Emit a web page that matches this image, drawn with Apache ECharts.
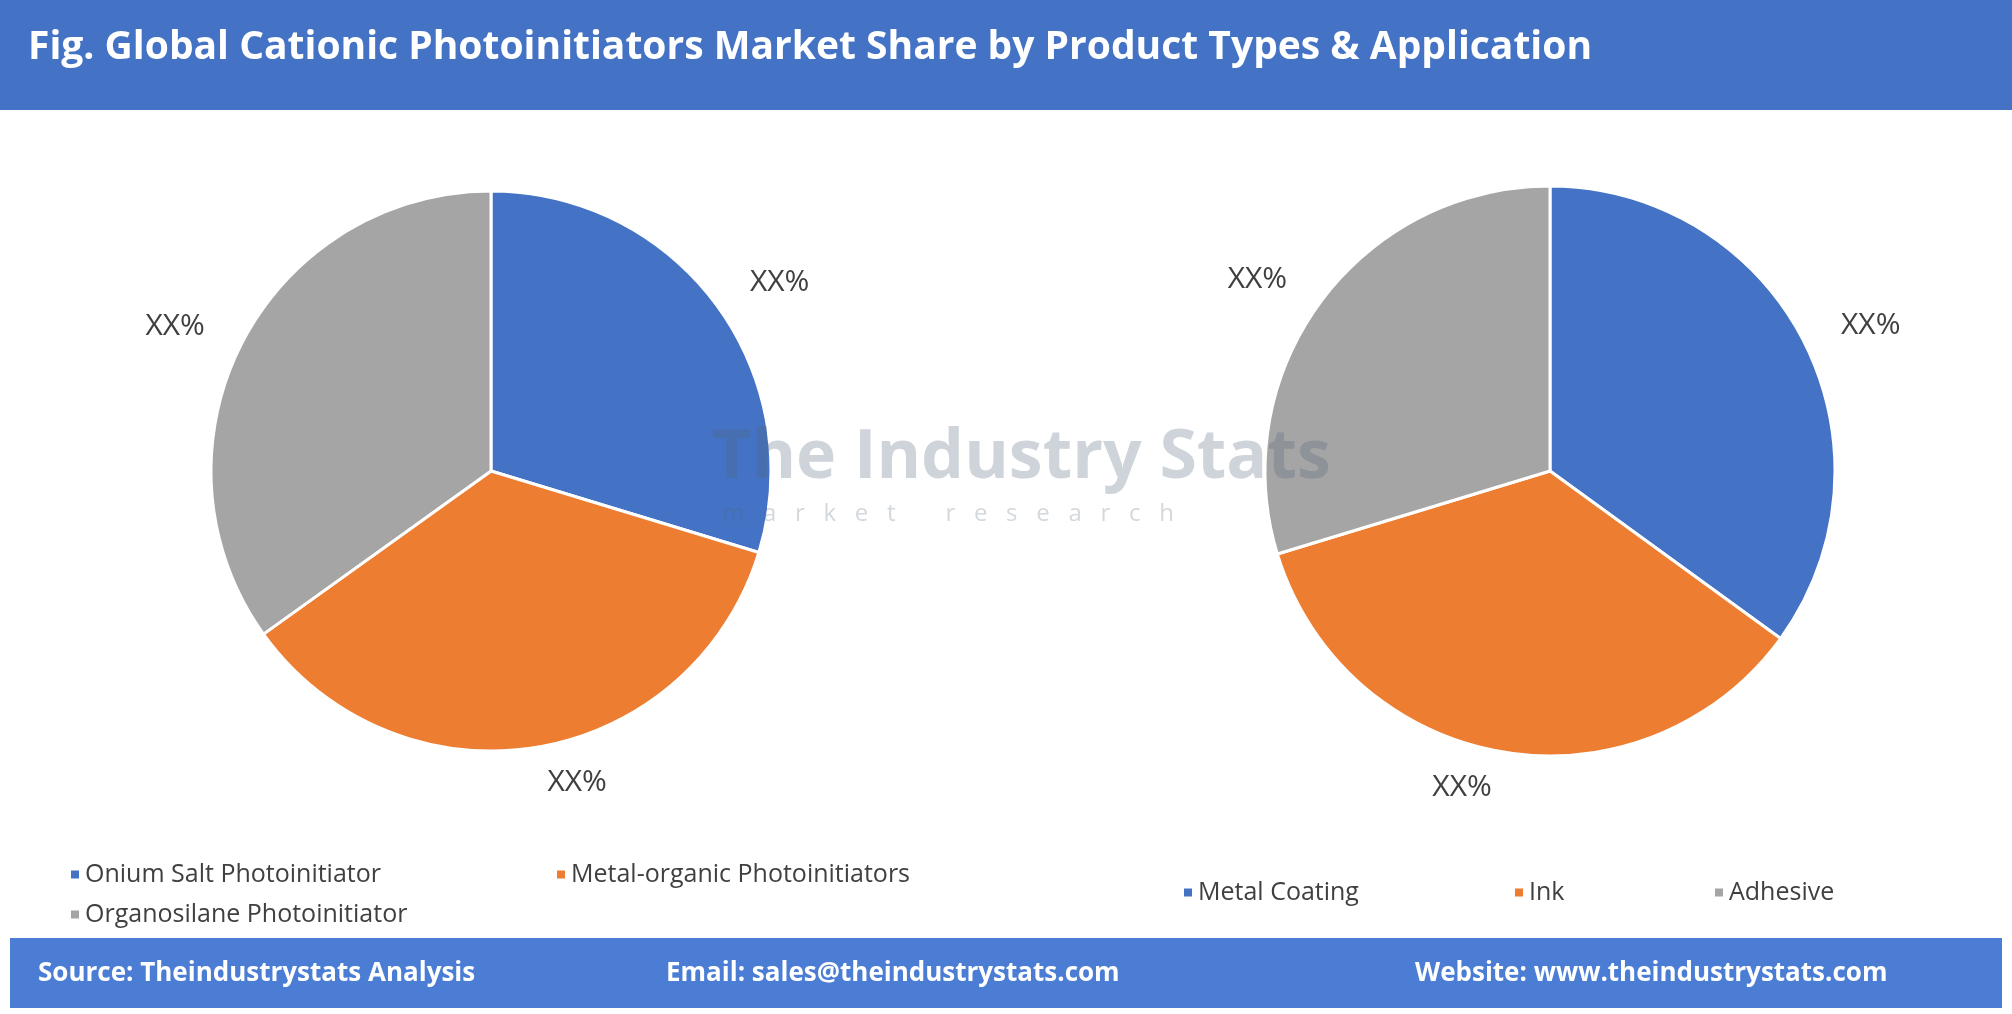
<!DOCTYPE html>
<html>
<head>
<meta charset="utf-8">
<script src="https://cdn.jsdelivr.net/npm/echarts@6/dist/echarts.min.js"></script>
<style>
  html, body { margin: 0; padding: 0; background: #fff; }
  #chart { width: 2012px; height: 1014px; }
</style>
</head>
<body>
<div id="chart"></div>
<script>
const titleText = 'Fig. Global Cationic Photoinitiators Market Share by Product Types & Application'
const productTypes = ['Onium Salt Photoinitiator', 'Metal-organic Photoinitiators', 'Organosilane Photoinitiator']
const productShares = [29.7, 35.4, 34.9]
const applications = ['Metal Coating', 'Ink', 'Adhesive']
const applicationShares = [35.0, 35.3, 29.7]
const sliceColors = ['#4472C4', '#ED7D31', '#A5A5A5']

const chart = echarts.init(document.getElementById('chart'))

const pieSeries = (names, values, center, radius) => ({
  type: 'pie',
  center: center,
  radius: radius,
  startAngle: 90,
  clockwise: true,
  data: names.map((n, i) => ({ name: n, value: values[i], itemStyle: { color: sliceColors[i] } })),
  itemStyle: { borderColor: '#fff', borderWidth: 3 },
  label: {
    show: true,
    position: 'outside',
    formatter: 'XX%',
    color: '#404040',
    fontSize: 30,
    fontFamily: 'Open Sans'
  },
  labelLine: { show: false, length: 36, length2: 0 },
  emphasis: { disabled: true }
})

const legendItem = (name, left, top) => ({
  data: [name],
  left: left,
  top: top,
  orient: 'horizontal',
  icon: 'rect',
  itemWidth: 10,
  itemHeight: 10,
  itemGap: 10,
  textStyle: { color: '#404040', fontSize: 25, fontFamily: 'Open Sans' }
})

const footerText = (text, x) => ({
  type: 'text',
  left: x,
  top: 961,
  style: { text: text, fill: '#fff', font: 'bold 26px "Open Sans"' }
})

chart.setOption({
  animation: false,
  legend: [
    legendItem(productTypes[0], 64, 857),
    legendItem(productTypes[1], 550, 857),
    legendItem(productTypes[2], 64, 897),
    legendItem(applications[0], 1177, 875),
    legendItem(applications[1], 1508, 875),
    legendItem(applications[2], 1708, 875)
  ],
  graphic: [
    { type: 'rect', shape: { x: 0, y: 0, width: 2012, height: 110 }, style: { fill: '#4472C4' } },
    { type: 'text', left: 28, top: 28, style: { text: titleText, fill: '#fff', font: 'bold 39px "Open Sans"' } },
    { type: 'rect', shape: { x: 10, y: 938, width: 1992, height: 70 }, style: { fill: '#4A7DD3' } },
    footerText('Source: Theindustrystats Analysis', 38),
    footerText('Email: sales@theindustrystats.com', 666),
    footerText('Website: www.theindustrystats.com', 1415),
    { type: 'text', left: 712, top: 425, z: 10, style: { text: 'The Industry Stats', fill: 'rgba(80,100,120,0.28)', font: 'bold 68px "Open Sans"' } },
    { type: 'text', left: 722, top: 502, z: 10, style: { text: 'm   a   r   k   e   t        r   e   s   e   a   r   c   h', fill: 'rgba(80,100,120,0.25)', font: '24px "Open Sans"' } }
  ],
  series: [
    pieSeries(productTypes, productShares, [491, 471], 280),
    pieSeries(applications, applicationShares, [1550, 471], 285)
  ]
})
</script>
</body>
</html>
